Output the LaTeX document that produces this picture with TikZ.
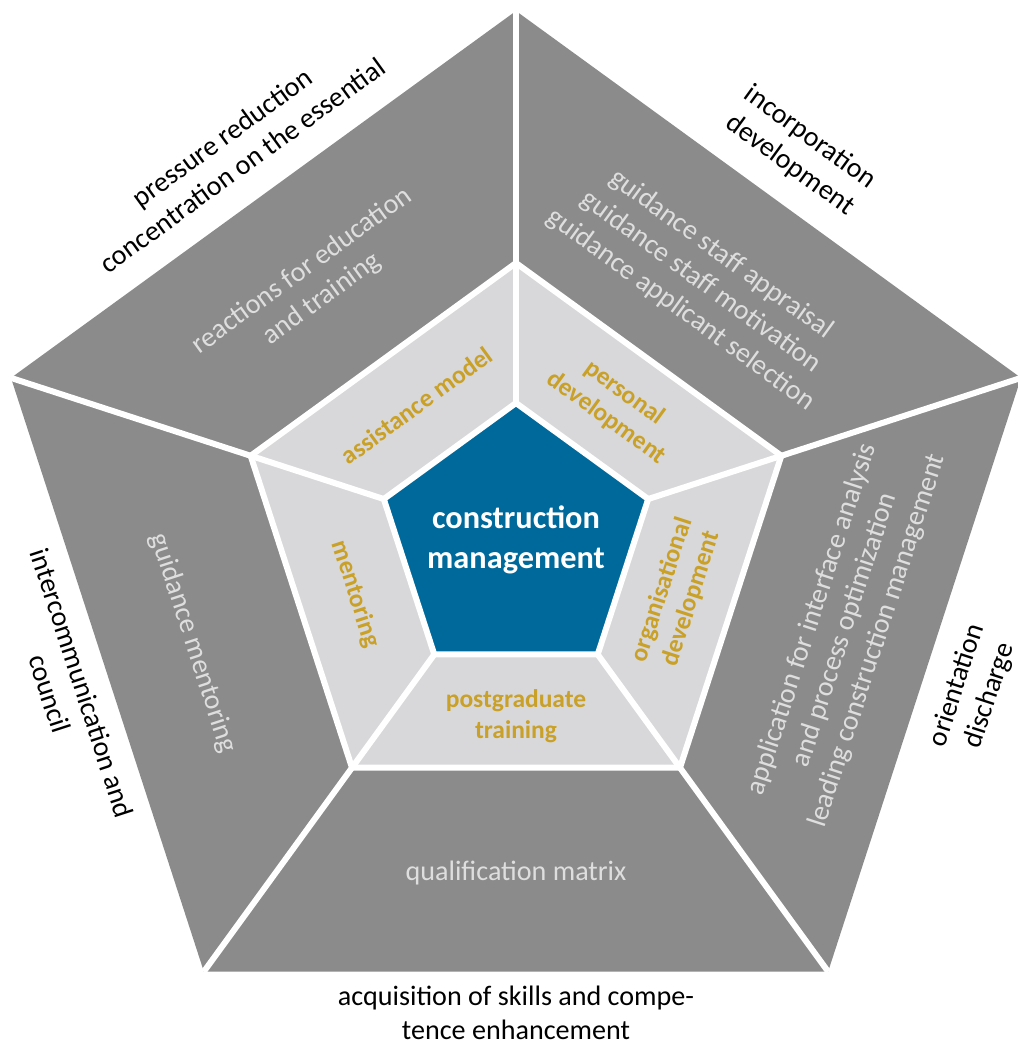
\documentclass[tikz,border=0pt]{standalone}
\usepackage{fontspec}
\setmainfont{Carlito}
\usepackage{tikz}
\usetikzlibrary{calc}
\definecolor{OuterGray}{RGB}{140,139,140}
\definecolor{RingGray}{RGB}{216,216,218}
\definecolor{CoreBlue}{RGB}{0,105,155}
\definecolor{Gold}{RGB}{201,161,40}
\definecolor{PaleText}{RGB}{222,222,222}

\tikzset{
  sep/.style={draw=white, line width=0.12cm, line join=miter},
  edgelbl/.style={align=center, text=black, inner sep=1pt, font=\fontsize{16}{19.5}\selectfont},
  fieldlbl/.style={align=center, text=PaleText, font=\fontsize{16}{19.5}\selectfont},
  ringlbl/.style={align=center, text=Gold, font=\fontsize{14.5}{17.5}\selectfont\bfseries},
  corelbl/.style={align=center, text=white, font=\fontsize{18.4}{22.5}\selectfont\bfseries}
}

\begin{document}
\begin{tikzpicture}
            \useasboundingbox (-10.32,-10.08) rectangle (10.04,10.84);

            % corners of the three pentagons
            \coordinate (o1) at (90:10.62);
            \coordinate (o2) at (18:10.62);
            \coordinate (o3) at (-54:10.62);
            \coordinate (o4) at (-126:10.62);
            \coordinate (o5) at (162:10.62);
            \coordinate (m1) at (90:5.58);
            \coordinate (m2) at (18:5.58);
            \coordinate (m3) at (-54:5.58);
            \coordinate (m4) at (-126:5.58);
            \coordinate (m5) at (162:5.58);
            \coordinate (i1) at (90:2.78);
            \coordinate (i2) at (18:2.78);
            \coordinate (i3) at (-54:2.78);
            \coordinate (i4) at (-126:2.78);
            \coordinate (i5) at (162:2.78);

            \fill[OuterGray] (o1) -- (o2) -- (o3) -- (o4) -- (o5) -- cycle;
            \draw[sep, fill=RingGray] (m1) -- (m2) -- (m3) -- (m4) -- (m5) -- cycle;

            % white separators
            \draw[sep] (o1) -- (i1);
            \draw[sep] (o2) -- (i2);
            \draw[sep] (o3) -- (i3);
            \draw[sep] (o4) -- (i4);
            \draw[sep] (o5) -- (i5);

            \draw[sep, fill=CoreBlue] (i1) -- (i2) -- (i3) -- (i4) -- (i5) -- cycle;

            % outer labels
            \node[edgelbl, rotate=36] (pressure) at (126:9.66) {pressure reduction\\concentration on the essential};
            \node[edgelbl, rotate=-36] (incorp) at (54:9.66) {incorporation\\development};
            \node[edgelbl, rotate=72] (orient) at (-18:9.62) {orientation\\discharge};
            \node[edgelbl] (acquis) at (0,-9.42) {acquisition of skills and compe-\\tence enhancement};
            \node[edgelbl, rotate=-72] (intercom) at (198:9.46) {intercommunication and\\council};

            % grey fields
            \node[fieldlbl, rotate=36] (reactions) at (-4.08,5.14) {reactions for education\\and training};
            \node[fieldlbl, rotate=-36] (guidance) at (3.7,5.2) {guidance staff appraisal\\guidance staff motivation\\guidance applicant selection};
            \node[fieldlbl, rotate=72] (application) at (6.58,-1.76) {application for interface analysis\\and process optimization\\leading construction management};
            \node[fieldlbl] (qualif) at (0,-6.62) {qualification matrix};
            \node[fieldlbl, rotate=-72] (guidmentor) at (-6.46,-2.02) {guidance mentoring};

            % ring
            \node[ringlbl, rotate=36] (assist) at (126:3.38) {assistance model};
            \node[ringlbl, rotate=-36] (personal) at (54:3.38) {personal\\development};
            \node[ringlbl, rotate=72] (organis) at (-18:3.38) {organisational\\development};
            \node[ringlbl] (postgrad) at (-90:3.48) {postgraduate\\training};
            \node[ringlbl, rotate=-72] (mentor) at (198:3.38) {mentoring};

            \node[corelbl] (core) at (0,0.04) {construction\\management};
        \end{tikzpicture}
\end{document}
